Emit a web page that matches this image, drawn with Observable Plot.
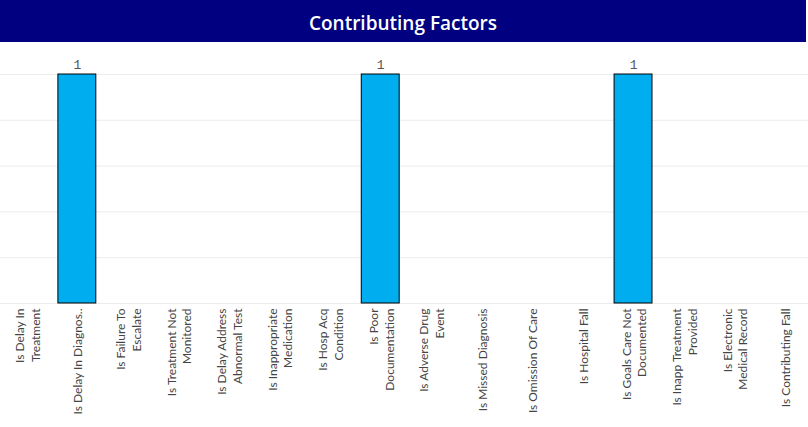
<!DOCTYPE html>
<html>
<head>
<meta charset="utf-8">
<script src="https://cdn.jsdelivr.net/npm/d3@7"></script>
<script src="https://cdn.jsdelivr.net/npm/@observablehq/plot@0.6"></script>
<style>
  html, body { margin: 0; padding: 0; background: #fff; }
  #title {
    width: 806px; height: 42px; background: #000080; color: #fff;
    font: 600 19px "Open Sans", Lato, sans-serif; text-align: center; line-height: 46px;
  }
  #chart svg { display: block; }
</style>
</head>
<body>
<div id="title">Contributing Factors</div>
<div id="chart"></div>
<script>
const categories = [
  "Is Delay In Treatment", "Is Delay In Diagnosis", "Is Failure To Escalate",
  "Is Treatment Not Monitored", "Is Delay Address Abnormal Test", "Is Inappropriate Medication",
  "Is Hosp Acq Condition", "Is Poor Documentation", "Is Adverse Drug Event",
  "Is Missed Diagnosis", "Is Omission Of Care", "Is Hospital Fall",
  "Is Goals Care Not Documented", "Is Inapp Treatment Provided", "Is Electronic Medical Record",
  "Is Contributing Fall"
];
const values = [0, 1, 0, 0, 0, 0, 0, 1, 0, 0, 0, 0, 1, 0, 0, 0];
const tickLabels = [
  "Is Delay In\nTreatment", "Is Delay In Diagnos..", "Is Failure To\nEscalate",
  "Is Treatment Not\nMonitored", "Is Delay Address\nAbnormal Test", "Is Inappropriate\nMedication",
  "Is Hosp Acq\nCondition", "Is Poor\nDocumentation", "Is Adverse Drug\nEvent",
  "Is Missed Diagnosis", "Is Omission Of Care", "Is Hospital Fall",
  "Is Goals Care Not\nDocumented", "Is Inapp Treatment\nProvided", "Is Electronic\nMedical Record",
  "Is Contributing Fall"
];
const data = categories.map((c, i) => ({category: c, value: values[i]}));
const labelOf = new Map(categories.map((c, i) => [c, tickLabels[i]]));

const chart = Plot.plot({
  width: 808,
  height: 385,
  marginTop: 32,
  marginBottom: 124,
  marginLeft: 0,
  marginRight: 0,
  style: {fontFamily: "Lato, sans-serif", background: "#fff"},
  x: {domain: categories, range: [1, 810], paddingInner: 0.25, paddingOuter: 0.125, align: 0.5, round: false},
  y: {domain: [0, 1], axis: null},
  marks: [
    Plot.gridY({ticks: 5, stroke: "#ececec", strokeOpacity: 1}),
    Plot.barY(data, {filter: d => d.value > 0, x: "category", y: "value", fill: "#00aeef", stroke: "#000", strokeWidth: 1}),
    Plot.text(data, {filter: d => d.value > 0, x: "category", y: "value", text: d => String(d.value), dy: -10,
      fontFamily: "Liberation Mono, monospace", fontSize: 13, fill: "#555"}),
    Plot.axisX({tickRotate: -90, tickSize: 0, tickPadding: 5, label: null, fontSize: 12,
      lineHeight: 1.3, fill: "#444", tickFormat: d => labelOf.get(d)})
  ]
});
document.getElementById("chart").append(chart);
</script>
</body>
</html>
